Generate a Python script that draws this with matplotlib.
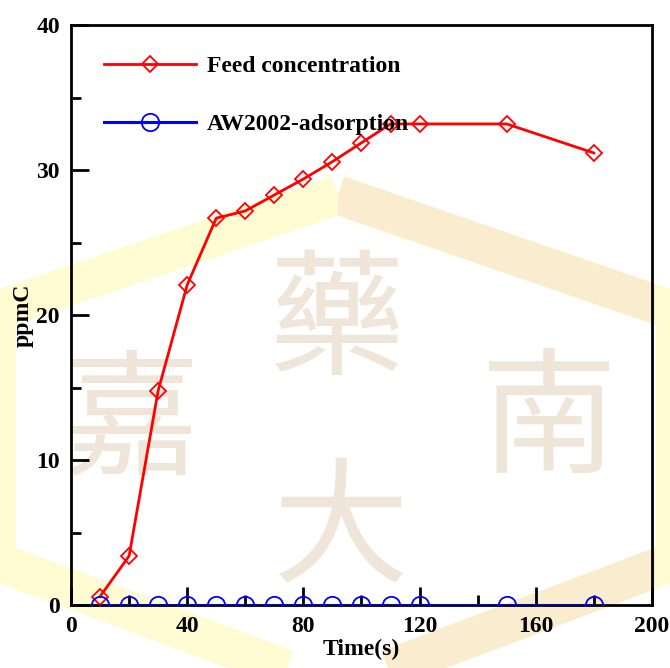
import numpy as np
import matplotlib
matplotlib.use("Agg")
import matplotlib.pyplot as plt
from matplotlib.patches import Polygon, Rectangle
from matplotlib.ticker import MultipleLocator

# sampling times (s) and measured concentrations (ppmC)
time_s = [10, 20, 30, 40, 50, 60, 70, 80, 90, 100, 110, 120, 150, 180]
feed = [0.6, 3.4, 14.8, 22.1, 26.7, 27.2, 28.3, 29.4, 30.6, 31.9, 33.2, 33.2, 33.2, 31.2]
aw2002 = [0, 0, 0, 0, 0, 0, 0, 0, 0, 0, 0, 0, 0, 0]

series_names = ["Feed concentration", "AW2002-adsorption"]

plt.rcParams['font.family'] = ['Liberation Serif', 'DejaVu Serif']
plt.rcParams['font.weight'] = 'bold'

fig = plt.figure(figsize=(6.70, 6.68), dpi=100)

# school logo watermark, drawn in pixel units on a background axes
bg = fig.add_axes([0, 0, 1, 1], zorder=-1)
bg.set_xlim(0, 670)
bg.set_ylim(668, 0)
bg.axis('off')
yellow = '#fffbd2'
tan = '#faeccf'
hexagon = [(338, 195), (672, 310), (672, 562), (338, 688), (-2, 562), (-2, 310)]
bg.add_patch(Polygon(hexagon, closed=True, fill=False, edgecolor=yellow,
                     lw=28, joinstyle='miter', zorder=0))
tan_part = Polygon(hexagon, closed=True, fill=False, edgecolor=tan,
                   lw=28, joinstyle='miter', zorder=0.2)
bg.add_patch(tan_part)
clip = Rectangle((338, 0), 317, 668, transform=bg.transData, visible=False)
bg.add_patch(clip)
tan_part.set_clip_path(clip)
# straight sides at the figure edges
bg.add_patch(Rectangle((0, 300), 16, 265, facecolor=yellow, edgecolor='none', zorder=0.1))
bg.add_patch(Rectangle((656, 305), 14, 260, facecolor=yellow, edgecolor='none', zorder=0.1))

wm = dict(fontsize=98, color='#efe5d9', ha='center', va='center', zorder=1,
          family=['Noto Sans CJK TC', 'DejaVu Sans'], weight='light')
bg.text(132, 425, "嘉", **wm)
bg.text(336, 325, "藥", **wm)
bg.text(340, 533, "大", **wm)
bg.text(549, 423, "南", **wm)

ax = fig.add_axes([0.106, 0.094, 0.867, 0.868])
ax.patch.set_alpha(0)

ax.plot(time_s, feed, color='red', lw=2, marker='D', ms=8, mfc='none',
        mec='red', mew=1.3, label=series_names[0], zorder=3)
ax.plot(time_s, aw2002, color='blue', lw=2.2, marker='o', ms=12.5, mfc='none',
        mec='blue', mew=1.3, label=series_names[1], zorder=3)

ax.set_xlim(0, 200)
ax.set_ylim(0, 40)
ax.xaxis.set_major_locator(MultipleLocator(40))
ax.xaxis.set_minor_locator(MultipleLocator(20))
ax.yaxis.set_major_locator(MultipleLocator(10))
ax.yaxis.set_minor_locator(MultipleLocator(5))
ax.tick_params(which='major', direction='in', length=13, width=2, labelsize=17, pad=8)
ax.tick_params(which='minor', direction='in', length=7, width=2)
for lbl in ax.get_xticklabels() + ax.get_yticklabels():
    lbl.set_fontweight('bold')
for s in ax.spines.values():
    s.set_linewidth(2)

ax.set_xlabel("Time(s)", fontsize=17, fontweight='bold', labelpad=1)
ax.set_ylabel("ppmC", fontsize=17, fontweight='bold', labelpad=2)

leg = ax.legend(loc='upper left', bbox_to_anchor=(0.02, 0.985), frameon=False,
                prop={'family': 'Liberation Serif', 'weight': 'bold', 'size': 17},
                handlelength=3.9, labelspacing=1.55, handletextpad=0.45)

fig.savefig("out.png", dpi=100)
